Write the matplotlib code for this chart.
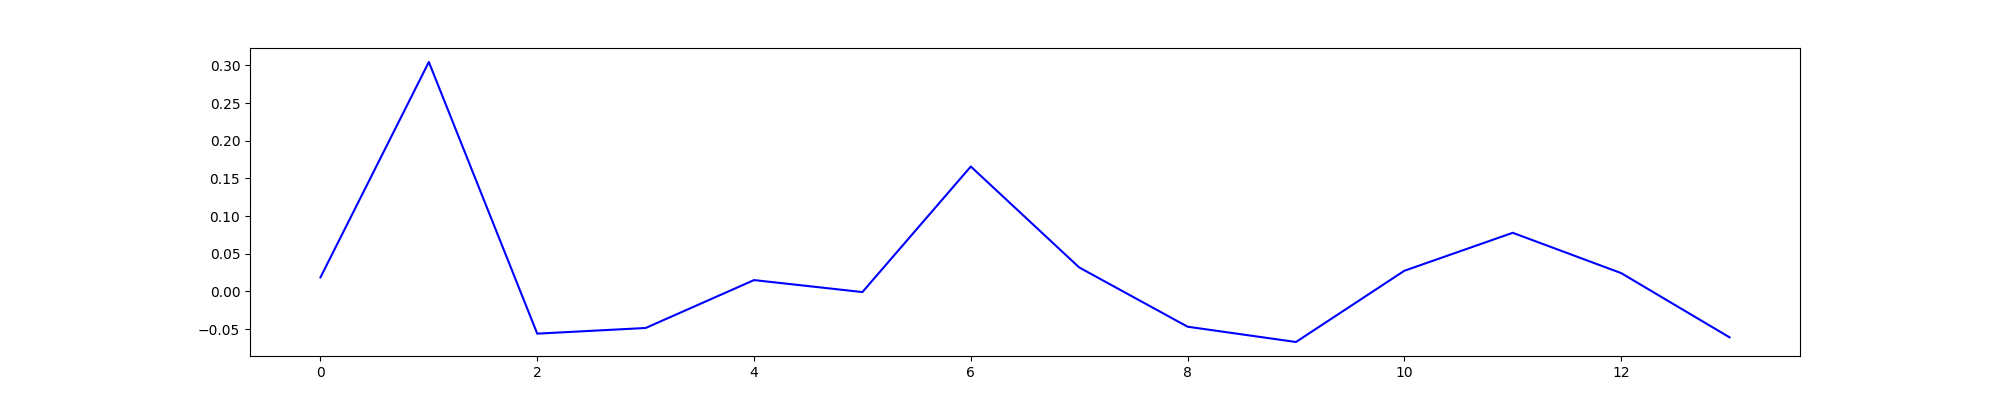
import matplotlib
matplotlib.use("Agg")
import matplotlib.pyplot as plt

x_values = list(range(14))
y_values = [0.0186, 0.3046, -0.0561, -0.0486, 0.0150, -0.0009, 0.1658,
            0.0318, -0.0469, -0.0672, 0.0274, 0.0778, 0.0243, -0.0610]

fig, ax = plt.subplots(figsize=(20, 4), dpi=100)
ax.plot(x_values, y_values, color="blue")
fig.savefig("out.png")
